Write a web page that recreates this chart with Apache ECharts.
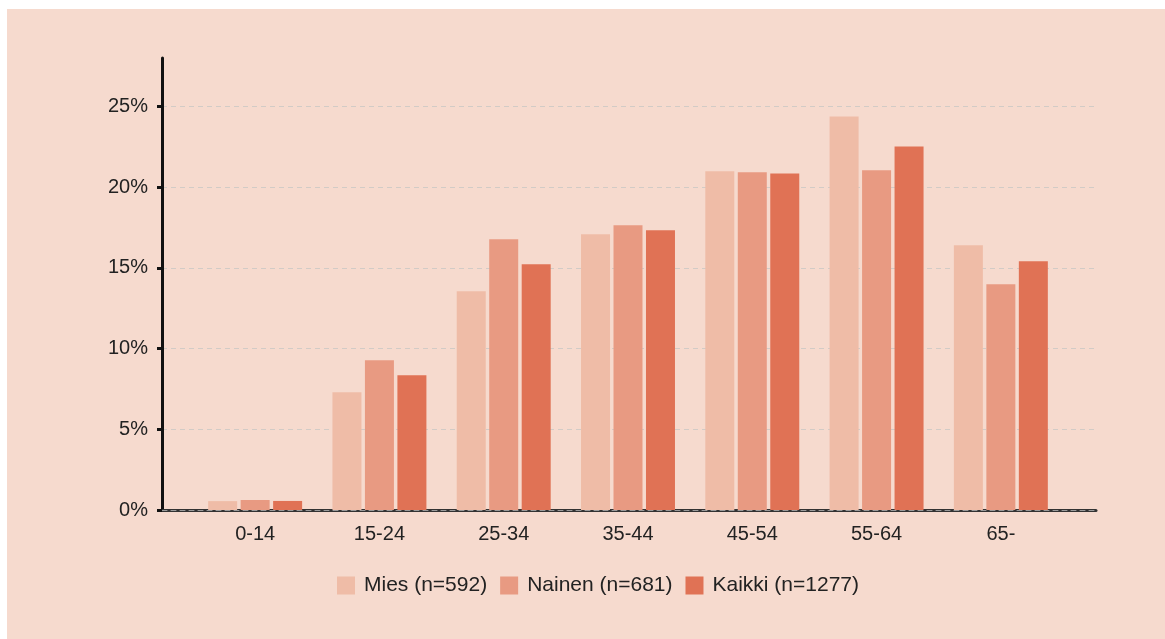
<!DOCTYPE html>
<html>
<head>
<meta charset="utf-8">
<script src="https://cdn.jsdelivr.net/npm/echarts@6/dist/echarts.min.js"></script>
<style>
    html, body { margin: 0; padding: 0; background: #ffffff; }
    #main { position: absolute; left: 7px; top: 9px; width: 1158px; height: 630px; }
</style>
</head>
<body>
<div id="main"></div>
<script>
// ikäryhmät ja osuudet (%)
const categories = ['0-14', '15-24', '25-34', '35-44', '45-54', '55-64', '65-'];
const mies = [0.55, 7.3, 13.55, 17.08, 20.98, 24.38, 16.4];
const nainen = [0.62, 9.28, 16.77, 17.64, 20.92, 21.04, 13.99];
const kaikki = [0.56, 8.35, 15.22, 17.33, 20.85, 22.52, 15.41];
const seriesNames = ['Mies (n=592)', 'Nainen (n=681)', 'Kaikki (n=1277)'];
const yTicks = [0, 5, 10, 15, 20, 25];

const colors = ['#efbca7', '#e89a82', '#e07255'];
const textColor = '#222222';

const myChart = echarts.init(document.getElementById('main'));

const barSeries = [mies, nainen, kaikki].map((data, i) => ({
    name: seriesNames[i],
    type: 'bar',
    xAxisIndex: 1,
    yAxisIndex: 1,
    data: data,
    barWidth: 29,
    barGap: '12%',
    itemStyle: { color: colors[i] }
}));

const option = {
    backgroundColor: '#f6dace',
    animation: false,
    textStyle: { fontFamily: 'Liberation Sans, Arial, sans-serif' },
    legend: {
        left: 325,
        top: 561,
        icon: 'rect',
        itemWidth: 18,
        itemHeight: 18,
        itemGap: 13,
        textStyle: { color: textColor, fontSize: 21, padding: [0, 0, 0, 4] },
        data: seriesNames
    },
    grid: [
        // akselit ja apuviivat
        { left: 155, right: 69, top: 49, bottom: 129, outerBoundsMode: 'none' },
        // pylväät
        { left: 186, right: 102, top: 49, bottom: 129, outerBoundsMode: 'none' }
    ],
    xAxis: [
        {
            gridIndex: 0,
            type: 'value',
            min: 0,
            max: 1,
            position: 'bottom',
            axisLine: { show: true, lineStyle: { color: '#333333', width: 3 } },
            axisTick: { show: false },
            axisLabel: { show: false },
            splitLine: { show: false }
        },
        {
            gridIndex: 1,
            type: 'category',
            data: categories,
            axisLine: { show: false },
            axisTick: { show: false },
            axisLabel: { color: textColor, fontSize: 20, margin: 14 },
            splitLine: { show: false }
        },
        {
            gridIndex: 0,
            type: 'value',
            min: 0,
            max: 1,
            position: 'bottom',
            axisLine: { show: true, lineStyle: { color: '#9a9a9a', width: 1, type: [5, 4] } },
            axisTick: { show: false },
            axisLabel: { show: false },
            splitLine: { show: false }
        }
    ],
    yAxis: [
        {
            gridIndex: 0,
            type: 'value',
            min: 0,
            max: 28,
            interval: 5,
            axisLine: { show: true, lineStyle: { color: '#111111', width: 3 } },
            axisTick: { show: true, length: 5, customValues: yTicks, lineStyle: { color: '#111111', width: 3 } },
            axisLabel: {
                color: textColor,
                fontSize: 20,
                margin: 14,
                customValues: yTicks,
                formatter: '{value}%'
            },
            splitLine: {
                show: true,
                showMinLine: false,
                showMaxLine: true,
                lineStyle: { color: '#d2cbc6', width: 1, type: [5, 4] }
            }
        },
        {
            gridIndex: 1,
            type: 'value',
            min: 0,
            max: 28,
            show: false,
            splitLine: { show: false }
        }
    ],
    series: barSeries
};
myChart.setOption(option);

window.addEventListener('resize', () => {
    myChart.resize();
});
</script>
</body>
</html>
